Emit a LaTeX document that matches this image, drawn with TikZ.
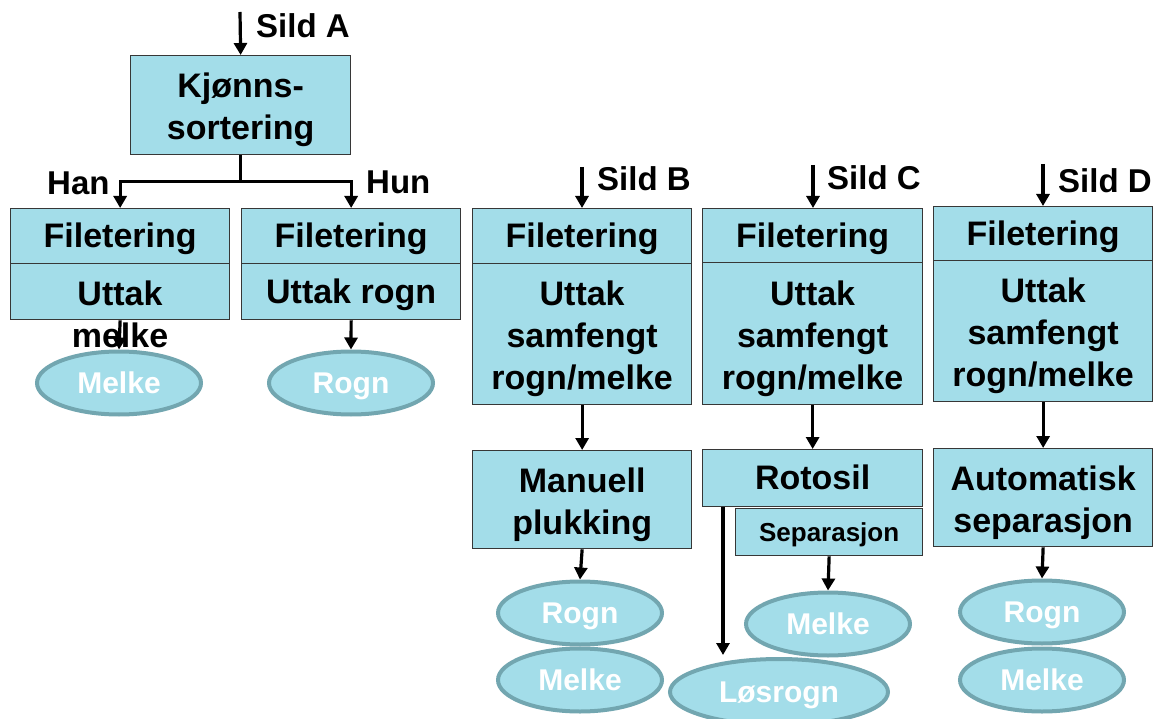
\documentclass[tikz,border=0pt]{standalone}
\usepackage{fontspec}
\setmainfont{Liberation Sans}
\usetikzlibrary{arrows.meta,shapes.geometric,calc}
\definecolor{boxfill}{RGB}{163,221,233}
\definecolor{ellline}{RGB}{114,166,176}
\definecolor{boxline}{RGB}{55,55,55}
\newcommand{\pstrut}{\rule[-0.212em]{0pt}{1.117em}}
\newcommand{\mstrut}{\rule[-0.212em]{0pt}{1.22em}}
\begin{document}
\begin{tikzpicture}[x=1pt,y=-1pt,
  box/.style={draw=boxline, line width=1.3pt, fill=boxfill, inner sep=0pt,
    anchor=north west, align=center, font=\bfseries\fontsize{34}{42}\selectfont,
    execute at begin node=\pstrut, execute at end node=\pstrut},
  mbox/.style={draw=boxline, line width=1.3pt, fill=boxfill, inner sep=0pt,
    anchor=north west, align=center, font=\bfseries\fontsize{34}{42}\selectfont},
  ebox/.style={draw=boxline, line width=1.3pt, fill=boxfill, inner sep=0pt,
    anchor=north west},
  oval/.style={ellipse, draw=ellline, line width=4pt, fill=boxfill, inner sep=0pt,
    minimum width=164pt, minimum height=63pt, text=white,
    font=\bfseries\fontsize{30}{36}\selectfont,
    execute at begin node=\pstrut, execute at end node=\pstrut},
  lbl/.style={inner sep=0pt, anchor=base west, font=\bfseries\fontsize{33}{40}\selectfont},
  txt/.style={inner sep=0pt, align=center, font=\bfseries\fontsize{34}{42}\selectfont},
  arr/.style={line width=3.2pt, -{Triangle[width=13pt,length=12pt]}},
  ln/.style={line width=3.2pt}]
\useasboundingbox (0,0) rectangle (1159,719);

% ---- Column A
\node[mbox, minimum width=220pt, minimum height=99pt] (Kj) at (130,55) {\mstrut Kjønns-\\sortering\pstrut};
\node[box, minimum width=219pt, minimum height=55pt] (A1a) at (10,208) {Filetering};
\node[ebox, minimum width=219pt, minimum height=56pt] (A1b) at (10,263) {};
\node[box, minimum width=219pt, minimum height=55pt] (A2a) at (241,208) {Filetering};
\node[box, minimum width=219pt, minimum height=56pt] (A2b) at (241,263) {Uttak rogn};
\node[oval] (MelkeA) at (119,383) {Melke};
\node[oval] (RognA) at (351,383) {Rogn};
\coordinate (sA) at (240,12);
\node[lbl] (lA) at (256,38) {Sild A};
\node[lbl] (lHan) at (47,195) {Han};
\node[lbl] (lHun) at (366,194) {Hun};
\draw[arr] (sA) -- (Kj.north);
\draw[ln] (Kj.south) -- ++(0,26) coordinate (br);
\draw[arr] (br) -| (A1a.north);
\draw[arr] (br) -| (A2a.north);
\draw[arr] (A1b.south) -- (MelkeA.north);
\draw[arr] (A2b.south) -- (RognA.north);
\node[txt] (A1t) at (120,314) {Uttak\\melke};

% ---- Column B
\node[box, minimum width=219pt, minimum height=55pt] (B1a) at (472,208) {Filetering};
\node[mbox, minimum width=219pt, minimum height=141pt] (B1b) at (472,263) {\mstrut Uttak\\samfengt\\rogn/melke\pstrut};
\node[mbox, minimum width=219pt, minimum height=98pt] (Man) at (472,450) {\mstrut Manuell\\plukking\pstrut};
\node[oval] (RognB) at (580,613) {Rogn};
\node[oval] (MelkeB) at (580,680) {Melke};
\coordinate (sB) at (582,167);
\node[lbl] (lB) at (597,191) {Sild B};
\draw[arr] (sB) -- (sB |- B1a.north);
\draw[arr] (B1b.south) -- (Man.north);
\draw[arr] (Man.south) -- (RognB.north);

% ---- Column C
\node[box, minimum width=220pt, minimum height=54pt] (C1a) at (702,208) {Filetering};
\node[mbox, minimum width=220pt, minimum height=142pt] (C1b) at (702,262) {\mstrut Uttak\\samfengt\\rogn/melke\pstrut};
\node[box, minimum width=220pt, minimum height=57pt] (Rot) at (702,449) {Rotosil};
\node[box, minimum width=187pt, minimum height=47pt, font=\bfseries\fontsize{26}{31}\selectfont] (Sep) at (735,508) {Separasjon};
\node[oval] (MelkeC) at (828,624) {Melke};
\node[oval, minimum width=218pt, minimum height=66pt] (Los) at (779,692) {Løsrogn};
\coordinate (sC) at (813,165);
\node[lbl] (lC) at (827,190) {Sild C};
\draw[arr] (sC) -- (sC |- C1a.north);
\draw[arr] (C1b.south) -- (Rot.north);
\coordinate (rl) at ($(Rot.south west)+(21,0)$);
\draw[arr] (rl) -- ($(rl |- Los.north)+(0,-2)$);
\draw[arr] (Sep.south) -- (MelkeC.north);

% ---- Column D
\node[box, minimum width=219pt, minimum height=54pt] (D1a) at (933,206) {Filetering};
\node[mbox, minimum width=219pt, minimum height=141pt] (D1b) at (933,260) {\mstrut Uttak\\samfengt\\rogn/melke\pstrut};
\node[mbox, minimum width=219pt, minimum height=98pt] (Aut) at (933,448) {\mstrut Automatisk\\separasjon\pstrut};
\node[oval] (RognD) at (1042,612) {Rogn};
\node[oval] (MelkeD) at (1042,680) {Melke};
\coordinate (sD) at (1043,164);
\node[lbl] (lD) at (1058,193) {Sild D};
\draw[arr] (sD) -- (sD |- D1a.north);
\draw[arr] (D1b.south) -- (Aut.north);
\draw[arr] (Aut.south) -- (RognD.north);
\end{tikzpicture}
\end{document}
